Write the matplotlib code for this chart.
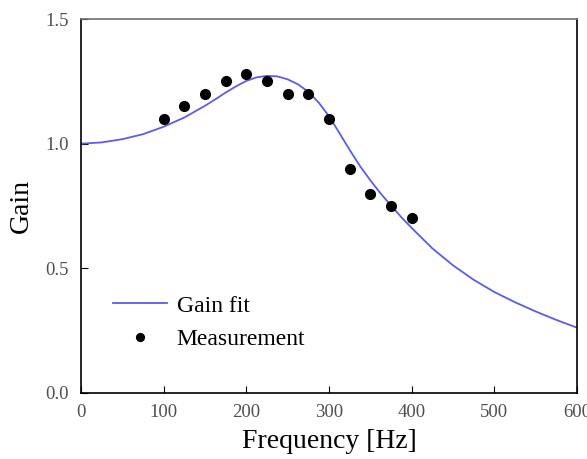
import matplotlib
matplotlib.use("Agg")
from matplotlib import pyplot as plt

# fitted gain curve
fit_freq = [0, 25, 50, 75, 100, 125, 150, 162.5, 175, 187.5, 200, 212.5, 225,
            237.5, 250, 262.5, 275, 287.5, 300, 312.5, 325, 337.5, 350, 362.5,
            375, 387.5, 400, 425, 450, 475, 500, 525, 550, 575, 600]
fit_gain = [1.00, 1.005, 1.018, 1.038, 1.068, 1.105, 1.152, 1.178, 1.205,
            1.230, 1.252, 1.266, 1.272, 1.270, 1.258, 1.238, 1.208, 1.165,
            1.110, 1.043, 0.975, 0.910, 0.853, 0.800, 0.752, 0.705, 0.662,
            0.580, 0.512, 0.454, 0.405, 0.364, 0.327, 0.293, 0.262]

# measured points
meas_freq = [100, 125, 150, 175, 200, 225, 250, 275, 300, 325, 350, 375, 400]
meas_gain = [1.10, 1.15, 1.20, 1.25, 1.28, 1.25, 1.20, 1.20, 1.10, 0.90, 0.80, 0.75, 0.70]

xticks = [0, 100, 200, 300, 400, 500, 600]
yticks = [0.0, 0.5, 1.0, 1.5]

plt.rcParams['font.family'] = ['Liberation Serif', 'DejaVu Serif']

fig = plt.figure(figsize=(5.87, 4.59), dpi=100)
ax = fig.add_axes([0.138, 0.1438, 0.845, 0.8148])

ax.plot(fit_freq, fit_gain, color='#5c5cec', lw=1.3, label='Gain fit')
ax.plot(meas_freq, meas_gain, 'o', color='black', ms=7, label='Measurement')

ax.set_xlim(0, 600)
ax.set_ylim(0, 1.5)
ax.set_xticks(xticks)
ax.set_yticks(yticks)
ax.set_yticklabels(['%.1f' % v for v in yticks])
ax.tick_params(direction='in', length=5, labelsize=13.5, labelcolor='#505050',
               top=False, right=False)
ax.tick_params(axis='x', pad=8)
ax.tick_params(axis='y', pad=9)

ax.spines['top'].set_color('#707070')
for s in ax.spines.values():
    s.set_linewidth(1.2)

ax.set_xlabel('Frequency [Hz]', fontsize=20, labelpad=6)
ax.set_ylabel('Gain', fontsize=20, labelpad=8)

leg = ax.legend(loc='lower left', bbox_to_anchor=(0.045, 0.09), frameon=False,
                fontsize=17, handlelength=2.3, handletextpad=0.4,
                labelspacing=0.5, borderaxespad=0, markerscale=0.8)

fig.savefig('out.png', dpi=100)
